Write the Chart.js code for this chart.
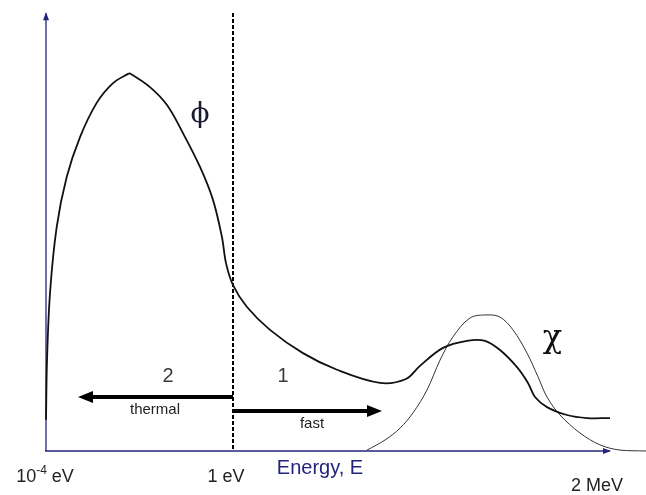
<!DOCTYPE html>
<html>
<head>
<meta charset="utf-8">
<script src="https://cdn.jsdelivr.net/npm/chart.js@4/dist/chart.umd.min.js"></script>
<style>
  html, body { margin: 0; padding: 0; background: #ffffff; }
  #wrap { width: 646px; height: 495px; }
</style>
</head>
<body>
<div id="wrap"><canvas id="c" width="646" height="495"></canvas></div>
<script>
// Energy position (arbitrary units along the energy axis) and relative values
const phiX = [0, 0.17, 0.67, 1.78, 3.45, 5.67, 8.45, 11.17, 13.67, 14.0, 17.33, 20.17, 22.83, 25.67, 27.83, 29.33, 30.0, 31.17, 33.5, 37.33, 42.83, 48.5, 55.67, 60.0, 62.33, 66.17, 70.17, 73.17, 75.67, 78.5, 80.33, 81.5, 83.5, 86.83, 90.17, 94.0];
const phiY = [7.1, 20.7, 36.0, 51.0, 62.4, 71.5, 79.3, 83.8, 85.9, 86.0, 82.9, 78.8, 72.4, 64.7, 57.2, 48.7, 42.8, 37.8, 32.8, 27.6, 22.3, 18.5, 15.5, 16.4, 19.4, 23.5, 25.1, 25.1, 23.0, 19.1, 15.5, 12.3, 10.0, 8.2, 7.5, 7.5];

const chiX = [53.5, 56.5, 59.0, 61.17, 63.5, 65.67, 67.83, 70.67, 73.5, 75.67, 77.83, 80.17, 82.0, 83.5, 85.67, 89.0, 92.33, 95.67, 100];
const chiY = [0.2, 2.5, 5.2, 8.7, 13.9, 20.7, 26.0, 30.3, 31.0, 30.5, 27.6, 22.3, 16.9, 12.3, 8.2, 4.1, 1.4, 0.2, 0];

// Axis tick labels (placed along the energy axis)
const tickLabels = ["10", "1 eV", "2 MeV"];
const tickValues = [-0.17, 30.0, 91.83];
const axisTitle = "Energy, E";

// Group boundary (1 eV) and group annotations
const boundaryX = 31.17;
const groupLabels = ["2", "1"];
const groupLabelX = [20.33, 39.5];
const groupLabelY = 17.0;
const rangeNames = ["thermal", "fast"];
const rangeEndX = [5.33, 56.0];
const rangeArrowY = [12.3, 9.1];
const rangeTextX = [18.17, 44.33];
const rangeTextY = [9.3, 6.2];

const toPts = (xs, ys) => xs.map((x, i) => ({ x: x, y: ys[i] }));

const navy = '#23237d';
const SANS = '"Liberation Sans", Arial, sans-serif';

const decor = {
  id: 'decor',
  beforeDatasetsDraw(chart) {
    const ctx = chart.ctx;
    const xs = chart.scales.x, ys = chart.scales.y;
    const X = v => xs.getPixelForValue(v);
    const Y = v => ys.getPixelForValue(v);
    ctx.save();
    // axes
    ctx.strokeStyle = navy; ctx.fillStyle = navy; ctx.lineWidth = 1.3;
    const x0 = X(0), y0 = Y(0);
    const xEnd = X(94.0);
    ctx.beginPath(); ctx.moveTo(X(-0.17), y0); ctx.lineTo(xEnd, y0); ctx.stroke();
    ctx.beginPath(); ctx.moveTo(xEnd + 1, y0); ctx.lineTo(xEnd - 7, y0 - 3); ctx.lineTo(xEnd - 7, y0 + 3); ctx.closePath(); ctx.fill();
    ctx.beginPath(); ctx.moveTo(x0, y0); ctx.lineTo(x0, Y(99.7)); ctx.stroke();
    ctx.beginPath(); ctx.moveTo(x0, Y(99.7) - 1); ctx.lineTo(x0 - 3, Y(99.7) + 7); ctx.lineTo(x0 + 3, Y(99.7) + 7); ctx.closePath(); ctx.fill();
    // dashed boundary
    ctx.strokeStyle = '#000'; ctx.lineWidth = 2; ctx.setLineDash([4, 2]);
    ctx.beginPath(); ctx.moveTo(X(boundaryX), Y(99.8)); ctx.lineTo(X(boundaryX), y0); ctx.stroke();
    ctx.setLineDash([]);
    // arrows
    ctx.fillStyle = '#000'; ctx.lineWidth = 4;
    for (let i = 0; i < 2; i++) {
      const xa = X(boundaryX), xb = X(rangeEndX[i]), yy = Y(rangeArrowY[i]);
      const dir = xb > xa ? 1 : -1;
      ctx.beginPath(); ctx.moveTo(xa, yy); ctx.lineTo(xb - dir * 10, yy); ctx.stroke();
      ctx.beginPath(); ctx.moveTo(xb, yy); ctx.lineTo(xb - dir * 15, yy - 6); ctx.lineTo(xb - dir * 15, yy + 6); ctx.closePath(); ctx.fill();
    }
    ctx.textAlign = 'center'; ctx.textBaseline = 'middle';
    ctx.fillStyle = '#222';
    ctx.font = '15px ' + SANS;
    for (let i = 0; i < 2; i++) ctx.fillText(rangeNames[i], X(rangeTextX[i]), Y(rangeTextY[i]));
    ctx.fillStyle = '#3a3a3a';
    ctx.font = '20px ' + SANS;
    for (let i = 0; i < 2; i++) ctx.fillText(groupLabels[i], X(groupLabelX[i]), Y(groupLabelY));
    // tick labels
    ctx.fillStyle = '#222';
    const big = '18px ' + SANS, small = '12px ' + SANS;
    const tyOff = [26, 26, 35];
    {
      const cx = X(tickValues[0]), cy = y0 + tyOff[0];
      ctx.textAlign = 'left';
      ctx.font = big; const w1 = ctx.measureText('10').width;
      ctx.font = small; const w2 = ctx.measureText('-4').width;
      ctx.font = big; const w3 = ctx.measureText(' eV').width;
      const sx = cx - (w1 + w2 + w3) / 2;
      ctx.fillText(tickLabels[0], sx, cy);
      ctx.font = small; ctx.fillText('-4', sx + w1, cy - 6);
      ctx.font = big; ctx.fillText(' eV', sx + w1 + w2, cy);
    }
    ctx.textAlign = 'center';
    ctx.font = big;
    ctx.fillText(tickLabels[1], X(tickValues[1]), y0 + tyOff[1]);
    ctx.fillText(tickLabels[2], X(tickValues[2]), y0 + tyOff[2]);
    ctx.fillStyle = navy;
    ctx.font = '20px ' + SANS;
    ctx.fillText(axisTitle, X(45.67), y0 + 17);
    // curve symbols
    ctx.fillStyle = '#1a1a2e';
    ctx.font = '28px "DejaVu Serif", "Liberation Serif", serif';
    ctx.fillText('\u03D5', X(25.67), Y(76.5));
    ctx.fillStyle = '#111';
    ctx.font = '32px "DejaVu Serif", "Liberation Serif", serif';
    ctx.fillText('\u03C7', X(84.4), Y(25.5));
    ctx.restore();
  }
};

new Chart(document.getElementById('c'), {
  type: 'line',
  data: {
    datasets: [
      { label: 'phi', data: toPts(phiX, phiY), borderColor: '#111', borderWidth: 1.8, pointRadius: 0, tension: 0.35, fill: false },
      { label: 'chi', data: toPts(chiX, chiY), borderColor: '#333', borderWidth: 1.0, pointRadius: 0, tension: 0.35, fill: false }
    ]
  },
  options: {
    responsive: false,
    animation: false,
    devicePixelRatio: 1,
    layout: { padding: { left: 46, right: 0, top: 12, bottom: 44 } },
    plugins: { legend: { display: false }, tooltip: { enabled: false } },
    scales: {
      x: { type: 'linear', min: 0, max: 100, display: false },
      y: { type: 'linear', min: 0, max: 100, display: false }
    },
    clip: false
  },
  plugins: [decor]
});
</script>
</body>
</html>
